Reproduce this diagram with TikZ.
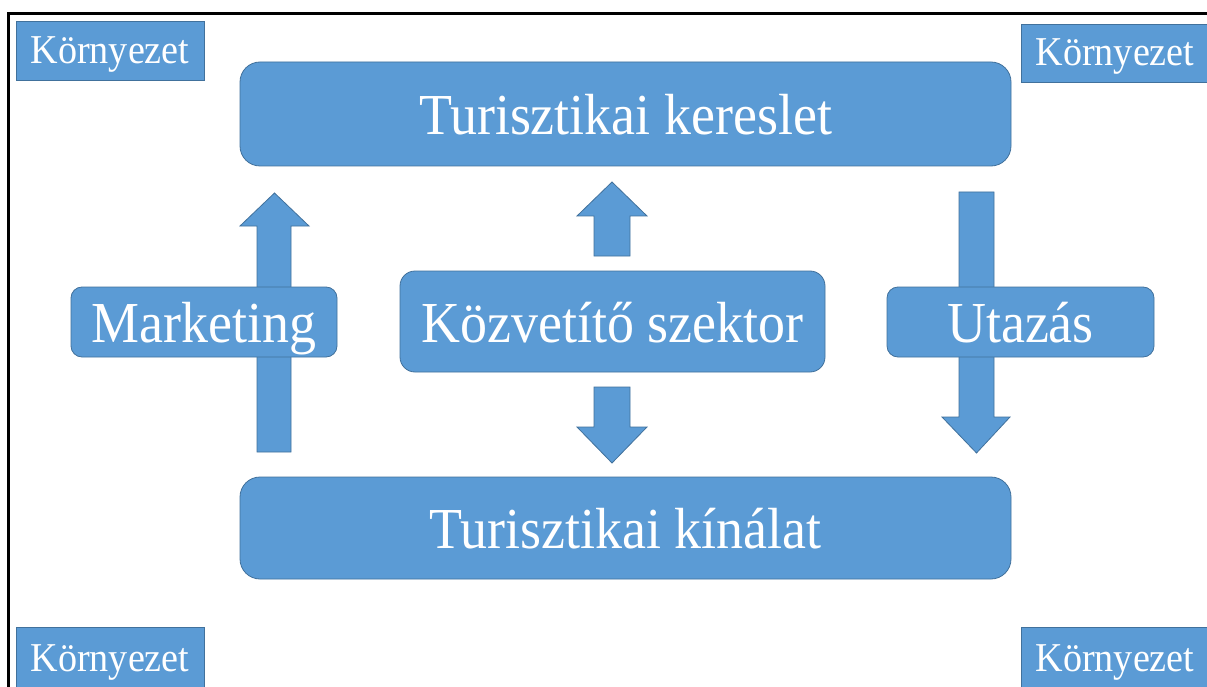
\documentclass[tikz,border=0pt]{standalone}
\usepackage{fontspec}
\setmainfont{Liberation Serif}[FakeStretch=0.93]
\definecolor{boxfill}{HTML}{5B9BD5}
\definecolor{boxline}{HTML}{41719C}
\begin{document}
\begin{tikzpicture}[x=1pt,y=-1pt,
  blue/.style={fill=boxfill,draw=boxline,line width=0.8pt},
  bigtext/.style={text=white,inner sep=0pt,font=\fontsize{58}{64}\selectfont,
    text height=41pt,text depth=0pt},
  mainbox/.style={blue,bigtext,rounded corners=20pt},
  sidebox/.style={blue,bigtext,rounded corners=11pt},
  envbox/.style={blue,text=white,inner sep=0pt,
    font=\fontsize{41}{46}\selectfont,text height=26pt,text depth=0pt},
  blockarrow/.style={blue,line join=miter}]
\useasboundingbox (0,0) rectangle (1207,687);
\fill[white] (0,0) rectangle (1207,687);
% frame
\draw[line width=3pt] (8,690) -- (8,14) -- (1210,14);

% block arrows (behind the labels)
\draw[blockarrow] (257,452) -- (257,226) -- (240,226) -- (274.5,193) -- (309,226) -- (291,226) -- (291,452) -- cycle;
\draw[blockarrow] (594,256) -- (594,216) -- (577,216) -- (612,182) -- (647,216) -- (630,216) -- (630,256) -- cycle;
\draw[blockarrow] (594,387) -- (594,427) -- (577,427) -- (612,463) -- (647,427) -- (630,427) -- (630,387) -- cycle;
\draw[blockarrow] (959,192) -- (959,417) -- (942,417) -- (976.5,453) -- (1010,417) -- (994,417) -- (994,192) -- cycle;

% main boxes
\node[mainbox,minimum width=771pt,minimum height=104pt] (ker) at (625.5,114) {Turisztikai kereslet};
\node[mainbox,minimum width=771pt,minimum height=102pt] (kin) at (625.5,528) {Turisztikai kínálat};
\node[sidebox,rounded corners=15pt,minimum width=425pt,minimum height=101pt] (kozv) at (612.5,321.5) {Közvetítő szektor};
\node[sidebox,minimum width=266pt,minimum height=70pt] (mkt) at (204,322) {Marketing};
\node[sidebox,minimum width=267pt,minimum height=70pt] (uta) at (1020.5,322) {Utazás};

% environment labels in the corners
\node[envbox,minimum width=188pt,minimum height=59pt] (envtl) at (110,50.5) {Környezet};
\node[envbox,minimum width=188pt,minimum height=58pt] (envtr) at (1115,53) {Környezet};
\node[envbox,minimum width=188pt,minimum height=62pt] (envbl) at (110,658) {Környezet};
\node[envbox,minimum width=188pt,minimum height=62pt] (envbr) at (1115,658) {Környezet};
\end{tikzpicture}
\end{document}
